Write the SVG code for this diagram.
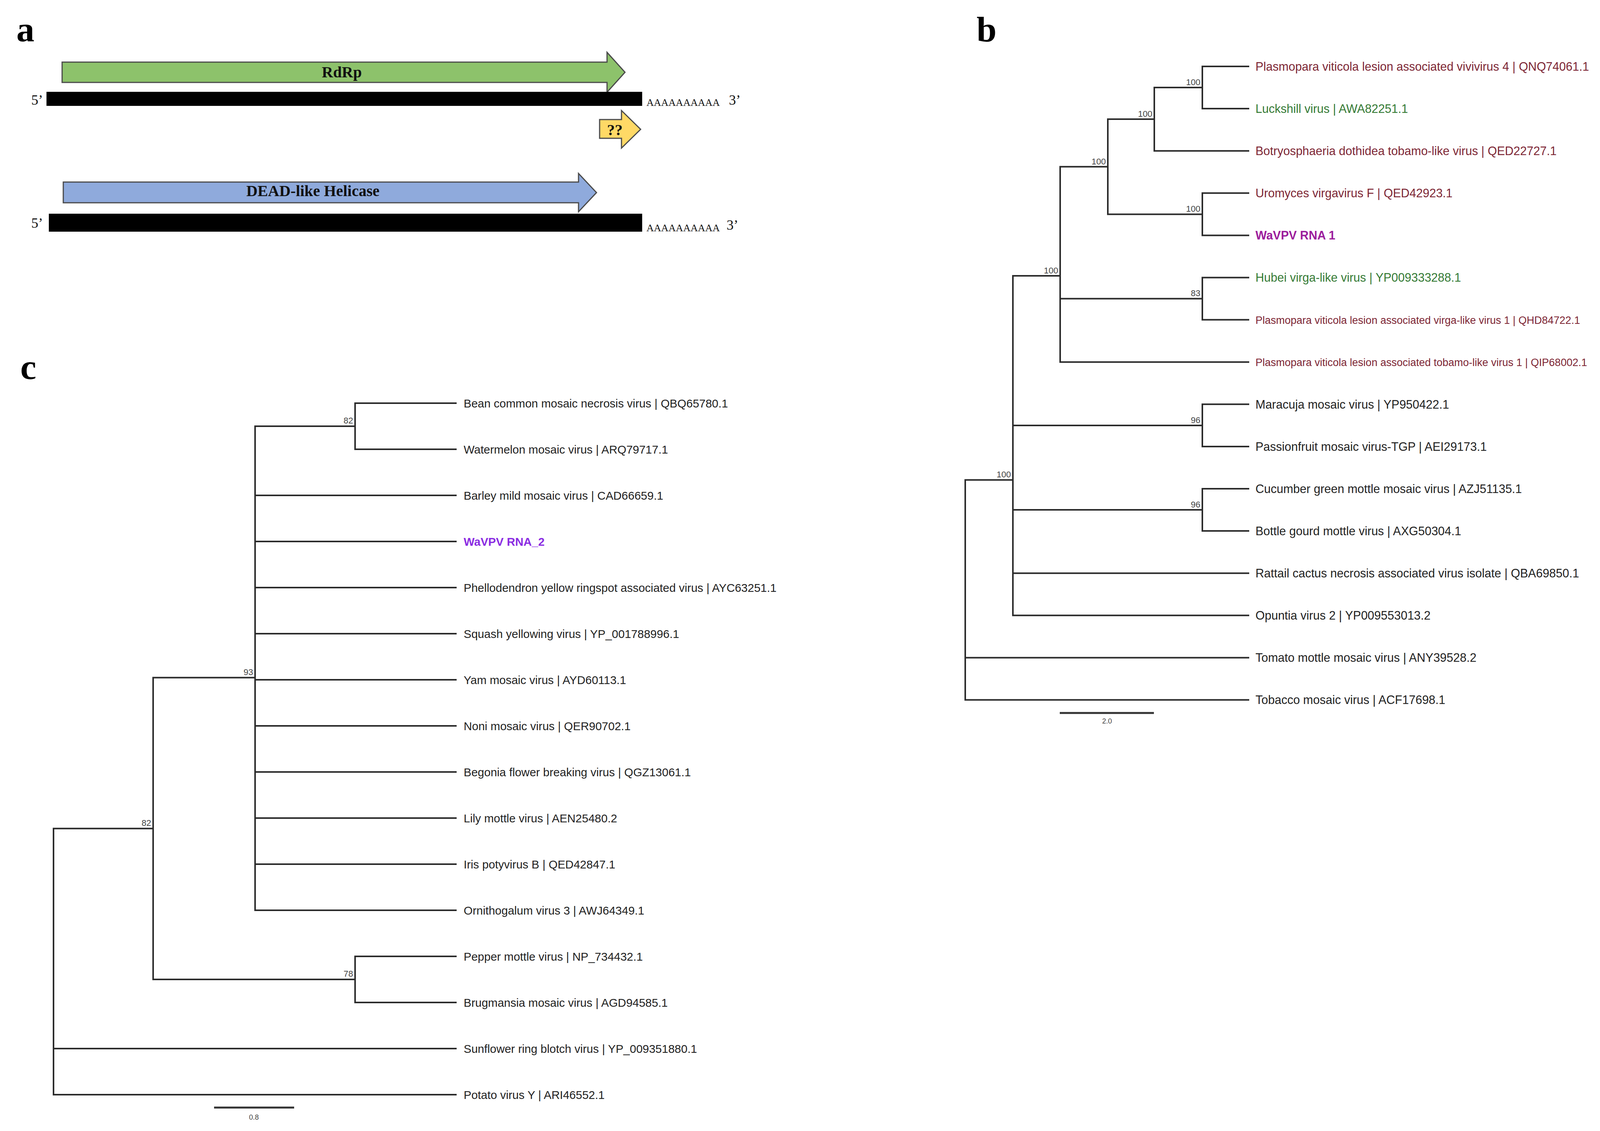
<svg xmlns="http://www.w3.org/2000/svg" width="4218" height="2895" viewBox="0 0 4218 2895">
<style>
.panel{font-family:"Liberation Serif","Times New Roman",serif;font-weight:bold;font-size:92px;fill:#000}
.gene{font-family:"Liberation Serif","Times New Roman",serif;font-weight:bold;font-size:40px;fill:#111;text-anchor:middle}
.end{font-family:"Liberation Serif","Times New Roman",serif;font-size:36px;fill:#111}
.polya{font-family:"Liberation Serif","Times New Roman",serif;font-size:26px;fill:#111}
.bar{fill:#000}
.arrow{stroke:#4a4a4a;stroke-width:3;stroke-linejoin:miter}
.edge{stroke:#2b2b2b;stroke-width:4;fill:none;stroke-linecap:square}
.lb{font-family:"Liberation Sans",Arial,sans-serif;font-size:30.5px;fill:#222}
.lb-long{font-size:27px}
.lc{font-family:"Liberation Sans",Arial,sans-serif;font-size:29.5px;fill:#222}
.red{fill:#7d2634}
.grn{fill:#347a34}
.wb{fill:#9c1c9c;font-weight:bold}
.wc{fill:#8a2be2;font-weight:bold}
.bs{font-family:"Liberation Sans",Arial,sans-serif;font-size:22px;fill:#444;text-anchor:end}
.sc{font-family:"Liberation Sans",Arial,sans-serif;font-size:18px;fill:#444;text-anchor:middle}
.scale{stroke:#333;stroke-width:5}
</style>
<rect width="4218" height="2895" fill="#fff"/>

<!-- Panel labels -->
<text class="panel" x="42" y="106">a</text>
<text class="panel" x="2500" y="106">b</text>
<text class="panel" x="52" y="970">c</text>

<!-- Panel a -->
<g id="panel-a">
  <g id="rdrp">
    <polygon class="arrow" fill="#8dc26b" points="159,159 1554,159 1554,134 1600,185 1554,236 1554,211 159,211"/>
    <text class="gene" x="875" y="198">RdRp</text>
  </g>
  <g id="rna1">
    <text class="end" x="80" y="268">5’</text>
    <rect class="bar" x="119" y="235" width="1525" height="36"/>
    <text class="polya" x="1655" y="271">AAAAAAAAAA</text>
    <text class="end" x="1866" y="268">3’</text>
  </g>
  <g id="orf-unknown">
    <polygon class="arrow" fill="#ffd966" points="1535,306 1591,306 1591,283 1640,331 1591,379 1591,354 1535,354"/>
    <text class="gene" x="1574" y="346">??</text>
  </g>
  <g id="helicase">
    <polygon class="arrow" fill="#8faadc" points="162,466 1481,466 1481,444 1527,493 1481,542 1481,519 162,519"/>
    <text class="gene" x="801" y="502">DEAD-like Helicase</text>
  </g>
  <g id="rna2">
    <text class="end" x="80" y="583">5’</text>
    <rect class="bar" x="125" y="547" width="1519" height="46"/>
    <text class="polya" x="1655" y="592">AAAAAAAAAA</text>
    <text class="end" x="1860" y="588">3’</text>
  </g>
</g>

<!-- Panel b tree connectors -->
<g id="tree-b-connectors" class="edge">
  <path d="M2471,1228.5V1791.5 M2471,1228.5H2593 M2471,1683.4H3196 M2471,1791.5H3196"/>
  <path d="M2593,706V1575.3 M2593,706H2714 M2593,1088.9H3078 M2593,1305H3078 M2593,1467.2H3196 M2593,1575.3H3196"/>
  <path d="M2714,426.7V926.7 M2714,426.7H2836 M2714,764.5H3078 M2714,926.7H3196"/>
  <path d="M2836,305.1V548.4 M2836,305.1H2955 M2836,548.4H3078"/>
  <path d="M2955,224V386.2 M2955,224H3078 M2955,386.2H3196"/>
  <path d="M3078,170V278.1 M3078,170H3196 M3078,278.1H3196"/>
  <path d="M3078,494.3V602.4 M3078,494.3H3196 M3078,602.4H3196"/>
  <path d="M3078,710.5V818.6 M3078,710.5H3196 M3078,818.6H3196"/>
  <path d="M3078,1034.8V1142.9 M3078,1034.8H3196 M3078,1142.9H3196"/>
  <path d="M3078,1251V1359.1 M3078,1251H3196 M3078,1359.1H3196"/>
</g>
<g id="tree-b-support">
  <text class="bs" x="3073" y="218">100</text>
  <text class="bs" x="2950" y="299">100</text>
  <text class="bs" x="2831" y="421">100</text>
  <text class="bs" x="3073" y="542">100</text>
  <text class="bs" x="2709" y="700">100</text>
  <text class="bs" x="3073" y="758">83</text>
  <text class="bs" x="3073" y="1083">96</text>
  <text class="bs" x="3073" y="1299">96</text>
  <text class="bs" x="2588" y="1222">100</text>
</g>
<g id="tree-b-leaves">
  <g id="b-leaf-1"><text class="lb red" x="3214" y="181">Plasmopara viticola lesion associated vivivirus 4 | QNQ74061.1</text></g>
  <g id="b-leaf-2"><text class="lb grn" x="3214" y="289">Luckshill virus | AWA82251.1</text></g>
  <g id="b-leaf-3"><text class="lb red" x="3214" y="397">Botryosphaeria dothidea tobamo-like virus | QED22727.1</text></g>
  <g id="b-leaf-4"><text class="lb red" x="3214" y="505">Uromyces virgavirus F | QED42923.1</text></g>
  <g id="b-leaf-5"><text class="lb wb" x="3214" y="613">WaVPV RNA 1</text></g>
  <g id="b-leaf-6"><text class="lb grn" x="3214" y="721">Hubei virga-like virus | YP009333288.1</text></g>
  <g id="b-leaf-7"><text class="lb lb-long red" x="3214" y="829">Plasmopara viticola lesion associated virga-like virus 1 | QHD84722.1</text></g>
  <g id="b-leaf-8"><text class="lb lb-long red" x="3214" y="937">Plasmopara viticola lesion associated tobamo-like virus 1 | QIP68002.1</text></g>
  <g id="b-leaf-9"><text class="lb" x="3214" y="1046">Maracuja mosaic virus | YP950422.1</text></g>
  <g id="b-leaf-10"><text class="lb" x="3214" y="1154">Passionfruit mosaic virus-TGP | AEI29173.1</text></g>
  <g id="b-leaf-11"><text class="lb" x="3214" y="1262">Cucumber green mottle mosaic virus | AZJ51135.1</text></g>
  <g id="b-leaf-12"><text class="lb" x="3214" y="1370">Bottle gourd mottle virus | AXG50304.1</text></g>
  <g id="b-leaf-13"><text class="lb" x="3214" y="1478">Rattail cactus necrosis associated virus isolate | QBA69850.1</text></g>
  <g id="b-leaf-14"><text class="lb" x="3214" y="1586">Opuntia virus 2 | YP009553013.2</text></g>
  <g id="b-leaf-15"><text class="lb" x="3214" y="1694">Tomato mottle mosaic virus | ANY39528.2</text></g>
  <g id="b-leaf-16"><text class="lb" x="3214" y="1802">Tobacco mosaic virus | ACF17698.1</text></g>
</g>
<g id="tree-b-scale">
  <line class="scale" x1="2713" y1="1825" x2="2954" y2="1825"/>
  <text class="sc" x="2834" y="1852">2.0</text>
</g>

<!-- Panel c tree connectors -->
<g id="tree-c-connectors" class="edge">
  <path d="M137,2120.8V2802 M137,2120.8H392 M137,2684H1167 M137,2802H1167"/>
  <path d="M392,1734.6V2507 M392,1734.6H653 M392,2507H909"/>
  <path d="M653,1091V2330 M653,1091H909 M653,1268H1167 M653,1386H1167 M653,1504H1167 M653,1622H1167 M653,1740H1167 M653,1858H1167 M653,1976H1167 M653,2094H1167 M653,2212H1167 M653,2330H1167"/>
  <path d="M909,1032V1150 M909,1032H1167 M909,1150H1167"/>
  <path d="M909,2448V2566 M909,2448H1167 M909,2566H1167"/>
</g>
<g id="tree-c-support">
  <text class="bs" x="904" y="1084">82</text>
  <text class="bs" x="648" y="1728">93</text>
  <text class="bs" x="387" y="2114">82</text>
  <text class="bs" x="904" y="2500">78</text>
</g>
<g id="tree-c-leaves">
  <g id="c-leaf-1"><text class="lc" x="1187" y="1043">Bean common mosaic necrosis virus | QBQ65780.1</text></g>
  <g id="c-leaf-2"><text class="lc" x="1187" y="1161">Watermelon mosaic virus | ARQ79717.1</text></g>
  <g id="c-leaf-3"><text class="lc" x="1187" y="1279">Barley mild mosaic virus | CAD66659.1</text></g>
  <g id="c-leaf-4"><text class="lc wc" x="1187" y="1397">WaVPV RNA_2</text></g>
  <g id="c-leaf-5"><text class="lc" x="1187" y="1515">Phellodendron yellow ringspot associated virus | AYC63251.1</text></g>
  <g id="c-leaf-6"><text class="lc" x="1187" y="1633">Squash yellowing virus | YP_001788996.1</text></g>
  <g id="c-leaf-7"><text class="lc" x="1187" y="1751">Yam mosaic virus | AYD60113.1</text></g>
  <g id="c-leaf-8"><text class="lc" x="1187" y="1869">Noni mosaic virus | QER90702.1</text></g>
  <g id="c-leaf-9"><text class="lc" x="1187" y="1987">Begonia flower breaking virus | QGZ13061.1</text></g>
  <g id="c-leaf-10"><text class="lc" x="1187" y="2105">Lily mottle virus | AEN25480.2</text></g>
  <g id="c-leaf-11"><text class="lc" x="1187" y="2223">Iris potyvirus B | QED42847.1</text></g>
  <g id="c-leaf-12"><text class="lc" x="1187" y="2341">Ornithogalum virus 3 | AWJ64349.1</text></g>
  <g id="c-leaf-13"><text class="lc" x="1187" y="2459">Pepper mottle virus | NP_734432.1</text></g>
  <g id="c-leaf-14"><text class="lc" x="1187" y="2577">Brugmansia mosaic virus | AGD94585.1</text></g>
  <g id="c-leaf-15"><text class="lc" x="1187" y="2695">Sunflower ring blotch virus | YP_009351880.1</text></g>
  <g id="c-leaf-16"><text class="lc" x="1187" y="2813">Potato virus Y | ARI46552.1</text></g>
</g>
<g id="tree-c-scale">
  <line class="scale" x1="548" y1="2835" x2="753" y2="2835"/>
  <text class="sc" x="650" y="2866">0.8</text>
</g>
</svg>
